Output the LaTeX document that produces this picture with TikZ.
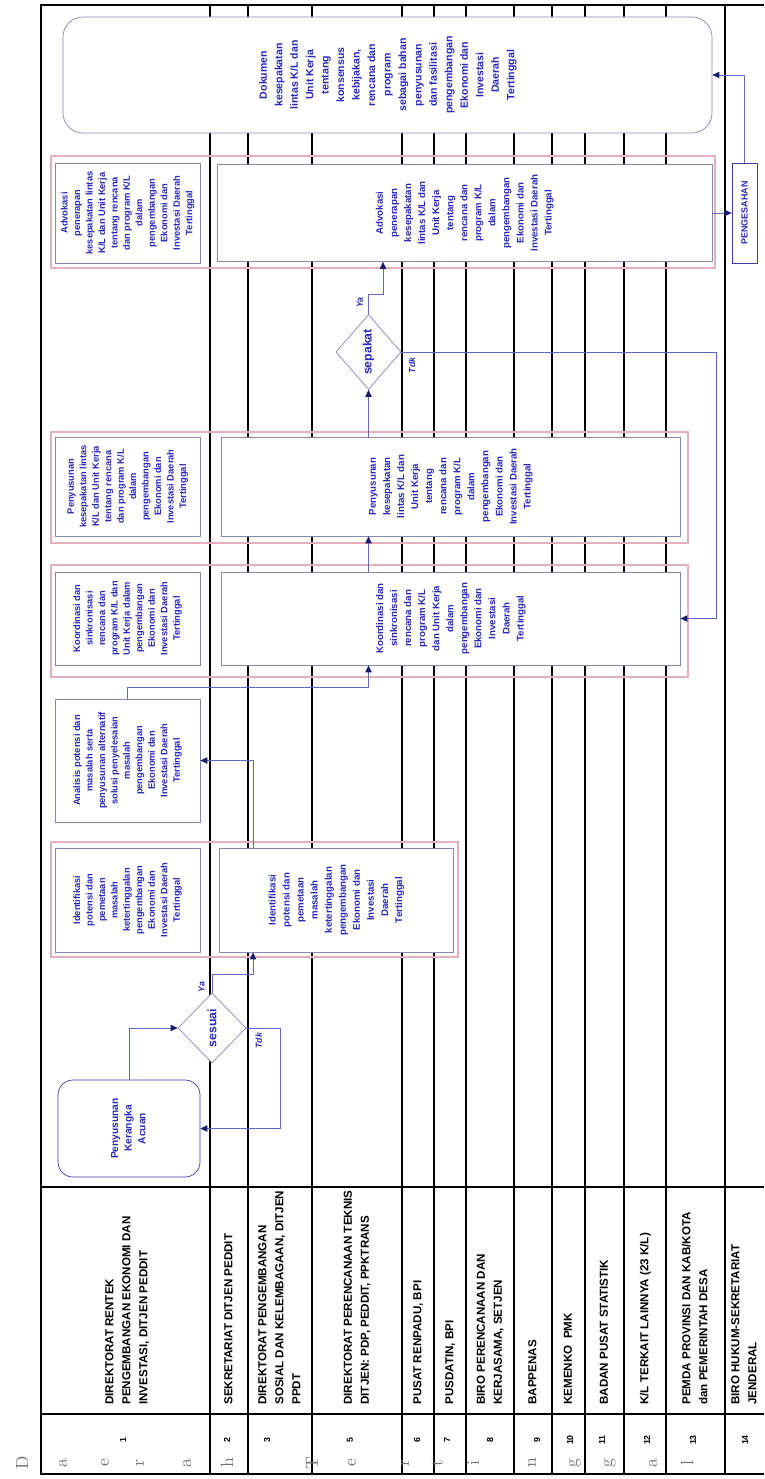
\documentclass[tikz,border=0pt]{standalone}
\usepackage{fontspec}
\usepackage{graphicx}
\usepackage{tikz}
\usetikzlibrary{arrows.meta,positioning,calc,shapes.geometric}
\newfontfamily\sansf{Liberation Sans}
\definecolor{txtblue}{RGB}{40,40,190}
\definecolor{boxline}{RGB}{135,135,180}
\definecolor{startblue}{RGB}{60,60,165}
\definecolor{pinkline}{RGB}{230,175,190}
\definecolor{flowline}{RGB}{95,105,185}
\definecolor{tipnavy}{RGB}{25,25,110}
% text turned to read bottom-to-top
\newcommand{\vtxt}[2][c]{\rotatebox{90}{\begin{tabular}{@{}#1@{}}#2\end{tabular}}}

\begin{document}
\begin{tikzpicture}[x=0.2mm,y=-0.2mm,
  lane/.style={line width=0.6pt},
  grp/.style={draw=pinkline,line width=0.8pt},
  task/.style={draw=boxline,fill=white,text=txtblue,inner sep=0pt,
    font=\sansf\bfseries\fontsize{5.5}{8}\selectfont},
  side/.style={task,font=\sansf\bfseries\fontsize{5.3}{7.1}\selectfont},
  start/.style={task,draw=startblue,rounded corners=3mm,
    font=\sansf\bfseries\fontsize{5.8}{7.8}\selectfont},
  decide/.style={diamond,draw=boxline,fill=white,text=txtblue,inner sep=0pt,
    font=\sansf\bfseries\fontsize{7}{8}\selectfont},
  yn/.style={text=txtblue,inner sep=0pt,font=\sansf\bfseries\itshape\fontsize{5}{6}\selectfont},
  flow/.style={draw=flowline,line width=0.55pt,-{Triangle[length=4pt,width=3.6pt,color=tipnavy]}},
  lanelabel/.style={anchor=south,inner sep=0pt,font=\sansf\bfseries\fontsize{6.6}{9.7}\selectfont},
  num/.style={inner sep=0pt,font=\sansf\bfseries\fontsize{5}{6}\selectfont},
  ghost/.style={inner sep=0pt,text=black!55,font=\fontsize{10}{12}\selectfont},
]
\useasboundingbox (0,0) rectangle (764,1479);
% lanes and frame
\foreach \x in {210,248,312,402,434,466,514,552,585,624,666,725}
  \draw[lane] (\x,5) -- (\x,1474);
\draw[lane,line width=0.9pt] (764,5) -- (41,5) -- (41,1474) -- (764,1474);
\draw[lane] (41,1187) -- (764,1187);
\draw[lane] (41,1414) -- (764,1414);
% lane names
\foreach \x/\txt [count=\i] in {
  127/{DIREKTORAT RENTEK\\PENGEMBANGAN EKONOMI DAN\\INVESTASI, DITJEN PEDDIT},
  229/{SEKRETARIAT DITJEN PEDDIT},
  280/{DIREKTORAT PENGEMBANGAN\\SOSIAL DAN KELEMBAGAAN, DITJEN\\PPDT},
  357/{DIREKTORAT PERENCANAAN TEKNIS\\DITJEN: PDP, PEDDIT, PPKTRANS},
  418/{PUSAT RENPADU, BPI},
  450/{PUSDATIN, BPI},
  490/{BIRO PERENCANAAN DAN\\KERJASAMA, SETJEN},
  533/{BAPPENAS},
  568.5/{KEMENKO\ \ PMK},
  604.5/{BADAN PUSAT STATISTIK},
  645/{K/L TERKAIT LAINNYA (23 K/L)},
  695.5/{PEMDA PROVINSI DAN KAB/KOTA\\dan PEMERINTAH DESA},
  744.5/{BIRO HUKUM-SEKRETARIAT\\JENDERAL}}
  \node[lanelabel] (lab\i) at (\x,1405) {\vtxt[l]{\txt}};
% numbers
\foreach \x/\n in {123/1,227/2,267/3,350/5,417/6,447/7,490/8,537/9,570/10,602/11,647/12,693/13,745/14}
  \node[num] (no\n) at (\x,1440) {\rotatebox{90}{\n}};
\foreach \x/\c [count=\i] in {22/D,63/a,105/e,140/r,187/a,227/h,312/T,352/e,405/r,437/t,473/i,532/n,575/g,610/g,653/a,687/l}
  \node[ghost] (ch\i) at (\x,1463) {\rotatebox{90}{\c}};

% start
\node[start,minimum width=28.4mm,minimum height=19.4mm] (pka) at (129,1128.5)
  {\vtxt{Penyusunan\\Kerangka\\Acuan}};
\node[decide,minimum width=13.6mm,minimum height=14mm] (sesuai) at (212,1028)
  {\rotatebox{90}{sesuai}};
\node[yn,above left=0pt and 4pt of sesuai.north] (ya1) {\rotatebox{90}{Ya}};
\node[yn,below right=2.5pt and 5pt of sesuai.east] (tdk1) {\rotatebox{90}{Tdk}};

% identifikasi
\draw[grp] (51,842) rectangle (458,957);
\node[side,minimum width=29mm,minimum height=20.8mm] (idkiri) at (127.5,900)
  {\vtxt{Identifikasi\\potensi dan\\pemetaan\\masalah\\ketertinggalan\\pengembangan\\Ekonomi dan\\Investasi Daerah\\Tertinggal}};
\node[task,minimum width=46.8mm,minimum height=20.8mm] (idbox) at (336,900)
  {\vtxt{Identifikasi\\potensi dan\\pemetaan\\masalah\\ketertinggalan\\pengembangan\\Ekonomi dan\\Investasi\\Daerah\\Tertinggal}};

% analisis
\node[side,minimum width=29mm,minimum height=24.6mm] (analisis) at (127.5,760.5)
  {\vtxt{Analisis potensi dan\\masalah serta\\penyusunan alternatif\\solusi penyelesaian\\masalah\\pengembangan\\Ekonomi dan\\Investasi Daerah\\Tertinggal}};

% koordinasi
\draw[grp] (51,565) rectangle (688,677);
\node[side,minimum width=29mm,minimum height=18.6mm] (kkiri) at (127.5,618.5)
  {\vtxt{Koordinasi dan\\sinkronisasi\\rencana dan\\program K/L dan\\Unit Kerja dalam\\pengembangan\\Ekonomi dan\\Investasi Daerah\\Tertinggal}};
\node[task,minimum width=91.8mm,minimum height=18.6mm] (kbox) at (450.5,618.5)
  {\vtxt{Koordinasi dan\\sinkronisasi\\rencana dan\\program K/L\\dan Unit Kerja\\dalam\\pengembangan\\Ekonomi dan\\Investasi\\Daerah\\Tertinggal}};

% kesepakatan
\draw[grp] (51,432) rectangle (688,543);
\node[side,minimum width=29mm,minimum height=19.8mm] (pkiri) at (127.5,486.5)
  {\vtxt{Penyusunan\\kesepakatan lintas\\K/L dan Unit Kerja\\tentang rencana\\dan program K/L\\dalam\\pengembangan\\Ekonomi dan\\Investasi Daerah\\Tertinggal}};
\node[task,minimum width=91.8mm,minimum height=19.8mm] (pbox) at (450.5,486.5)
  {\vtxt{Penyusunan\\kesepakatan\\lintas K/L dan\\Unit Kerja\\tentang\\rencana dan\\program K/L\\dalam\\pengembangan\\Ekonomi dan\\Investasi Daerah\\Tertinggal}};
\node[decide,minimum width=13mm,minimum height=15mm] (sepakat) at (368.5,352)
  {\rotatebox{90}{sepakat}};
\node[yn,above left=3.5pt and 3pt of sepakat.north] (ya2) {\rotatebox{90}{Ya}};
\node[yn,below right=3pt and 4pt of sepakat.east] (tdk2) {\rotatebox{90}{Tdk}};

% advokasi
\draw[grp] (51,156) rectangle (715,268);
\node[side,minimum width=29mm,minimum height=20mm] (akiri) at (127.5,213)
  {\vtxt{Advokasi\\penerapan\\kesepakatan lintas\\K/L dan Unit Kerja\\tentang rencana\\dan program K/L\\dalam\\pengembangan\\Ekonomi dan\\Investasi Daerah\\Tertinggal}};
\node[task,minimum width=99mm,minimum height=19.4mm] (abox) at (464.5,213)
  {\vtxt{Advokasi\\penerapan\\kesepakatan\\lintas K/L dan\\Unit Kerja\\tentang\\rencana dan\\program K/L\\dalam\\pengembangan\\Ekonomi dan\\Investasi Daerah\\Tertinggal}};
\node[task,draw=startblue,minimum width=5mm,minimum height=20mm,
  font=\sansf\bfseries\fontsize{5.1}{6}\selectfont] (sah) at (744.5,213)
  {\rotatebox{90}{PENGESAHAN}};

% dokumen
\node[task,draw=boxline,rounded corners=4mm,minimum width=129.8mm,minimum height=23.2mm,
  font=\sansf\bfseries\fontsize{6}{8.8}\selectfont] (doc) at (387.5,75)
  {\vtxt{Dokumen\\kesepakatan\\lintas K/L dan\\Unit Kerja\\tentang\\konsensus\\kebijakan,\\rencana dan\\program\\sebagai bahan\\penyusunan\\dan fasilitasi\\pengembangan\\Ekonomi dan\\Investasi\\Daerah\\Tertinggal}};

% flow
\draw[flow] (pka.north) |- (sesuai.west);
\draw[flow] (sesuai.east) -- ++(34,0) |- (pka.east);
\draw[flow] (sesuai.north) -- ++(0,-18) -| ($(idbox.south)+(-83,0)$);
\draw[flow] ($(idbox.north)+(-83,0)$) |- (analisis.east);
\draw[flow] (analisis.north) -- ++(0,-11) -| ($(kbox.south)+(-82,0)$);
\draw[flow] ($(kbox.north)+(-82,0)$) -- ($(pbox.south)+(-82,0)$);
\draw[flow] ($(pbox.north)+(-82,0)$) -- (sepakat.south);
\draw[flow] (sepakat.east) -- ++(315.5,0) |- (kbox.east);
\draw[flow] (sepakat.north) -- ++(0,-20) -| ($(abox.south)+(-81.5,0)$);
\draw[flow] (abox.east) -- (sah.west);
\draw[flow] (sah.north) |- (doc.east);
\end{tikzpicture}
\end{document}
